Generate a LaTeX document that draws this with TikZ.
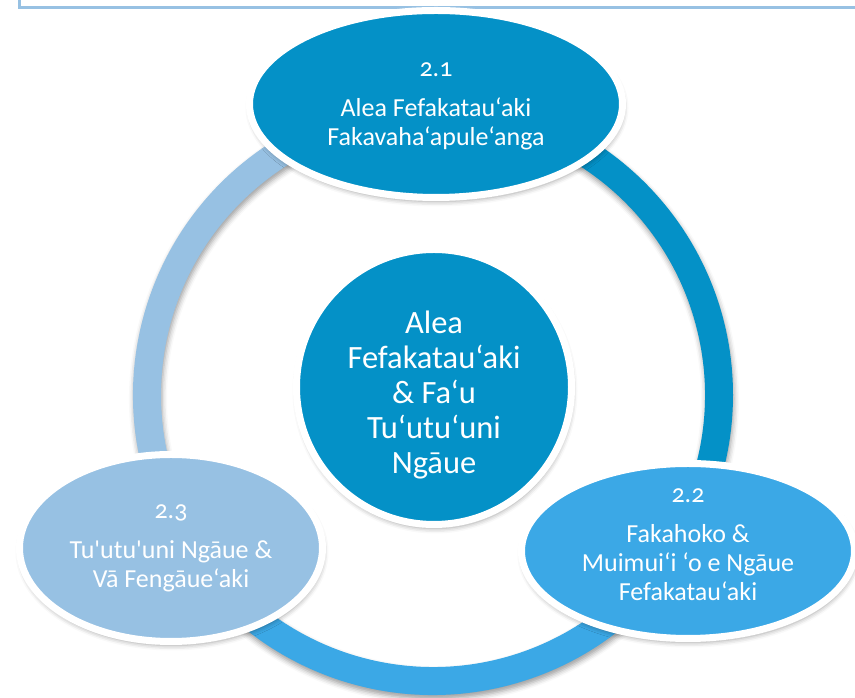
\documentclass[tikz,border=0pt]{standalone}
\usepackage{fontspec}
\setmainfont{Carlito}[Numbers=OldStyle]
\usetikzlibrary{shapes.geometric, shadows.blur}
\definecolor{deepblue}{RGB}{4,145,199}
\definecolor{skyblue}{RGB}{59,168,230}
\definecolor{paleblue}{RGB}{151,193,227}
\tikzstyle{softshadow}=[blur shadow={shadow xshift=1pt, shadow yshift=-4pt, shadow blur radius=5pt, shadow opacity=38}]
\tikzstyle{bubble}=[ellipse, draw=white, line width=7pt, inner sep=0pt, softshadow]
\tikzstyle{hub}=[circle, draw=white, line width=7pt, fill=deepblue, minimum size=275pt, inner sep=0pt, softshadow]
\tikzstyle{blurb}=[text=white, align=center, inner sep=0pt, font=\fontsize{26}{29}\selectfont]
\tikzstyle{hubtext}=[blurb, font=\fontsize{32.5}{35}\selectfont]
\newcommand{\ringarc}[3]{\fill[#1, softshadow] (ring) ++(#2:300) arc[start angle=#2, end angle=#3, radius=300] -- ++(#3:-28) arc[start angle=#3, end angle=#2, radius=272] -- cycle;}

\begin{document}
\begin{tikzpicture}[x=1pt, y=1pt]
  \useasboundingbox (0,0) rectangle (855,698);
  \draw[paleblue, line width=3pt] (19.5,690.5) rectangle (880,740);
  \coordinate (ring) at (433,303);
  \ringarc{deepblue}{90}{-30}
  \ringarc{skyblue}{-30}{-150}
  \ringarc{paleblue}{210}{90}
  \node[hub] (core) at (434,311) {};
  \node[hubtext] (coretext) at ([yshift=-8pt]core.center) {Alea\\Fefakatau‘aki\\\& Fa‘u\\Tu‘utu‘uni\\Ngāue};
  \node[bubble, fill=deepblue, minimum width=373pt, minimum height=187pt] (s21) at (436,594) {};
  \node[blurb] (t21) at ([yshift=-2pt]s21.center) {2.1\\[11pt]Alea Fefakatau‘aki\\Fakavaha‘apule‘anga};
  \node[bubble, fill=skyblue, minimum width=333pt, minimum height=175pt] (s22) at (688,147) {};
  \node[blurb] (t22) at ([yshift=6pt]s22.center) {2.2\\[11pt]Fakahoko \&\\Muimui‘i ‘o e Ngāue\\Fefakatau‘aki};
  \node[bubble, fill=paleblue, minimum width=303pt, minimum height=187pt] (s23) at (171,150) {};
  \node[blurb] (t23) at (s23.center) {2.3\\[11pt]Tu\textquotesingle utu\textquotesingle uni Ngāue \&\\Vā Fengāue‘aki};
\end{tikzpicture}
\end{document}
